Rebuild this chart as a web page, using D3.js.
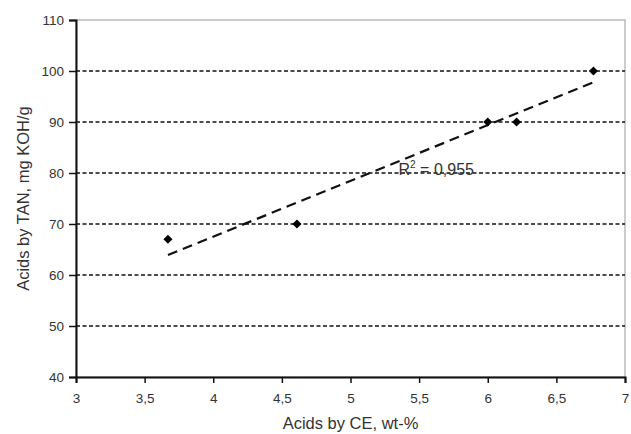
<!DOCTYPE html>
<html>
<head>
<meta charset="utf-8">
<script src="https://cdn.jsdelivr.net/npm/d3@7"></script>
<style>
  body { margin: 0; background: #fff; }
  text { font-family: "Liberation Sans", Arial, sans-serif; fill: #333; }
</style>
</head>
<body>
<svg id="chart" width="631" height="434"></svg>
<script>
// data
const acidsCE = [3.67, 4.61, 6.0, 6.21, 6.77];
const acidsTAN = [67, 70, 90, 90, 100];
const xTicks = [3, 3.5, 4, 4.5, 5, 5.5, 6, 6.5, 7];
const yTicks = [40, 50, 60, 70, 80, 90, 100, 110];
const r2Label = '0,955';

const margin = { top: 20, right: 6, bottom: 57, left: 76 };
const svg = d3.select('#chart');
const width = 631 - margin.left - margin.right;
const height = 434 - margin.top - margin.bottom;
const g = svg.append('g').attr('transform', `translate(${margin.left},${margin.top})`);

const x = d3.scaleLinear().domain([3, 7]).range([0, width]);
const y = d3.scaleLinear().domain([40, 110]).range([height, 0]);
const fmt = d => String(d).replace('.', ',');

// box border (light grey top / right)
g.append('rect')
  .attr('width', width).attr('height', height)
  .attr('fill', 'none').attr('stroke', '#aaa').attr('stroke-width', 1.2);

// dashed gridlines
g.selectAll('.grid')
  .data(yTicks.filter(d => d > 40 && d < 110))
  .enter().append('line')
  .attr('x1', 0).attr('x2', width)
  .attr('y1', d => y(d)).attr('y2', d => y(d))
  .attr('stroke', '#111').attr('stroke-width', 1.4)
  .attr('stroke-dasharray', '4,2.5');

// axes
const xAxis = g.append('g').attr('transform', `translate(0,${height})`)
  .call(d3.axisBottom(x).tickValues(xTicks).tickFormat(fmt).tickSize(6).tickPadding(10));
const yAxis = g.append('g')
  .call(d3.axisLeft(y).tickValues(yTicks).tickFormat(fmt).tickSize(7).tickPadding(5));
[xAxis, yAxis].forEach(a => {
  a.select('.domain').attr('stroke', '#111').attr('stroke-width', 2);
  a.selectAll('.tick line').attr('stroke', '#111').attr('stroke-width', 1.5);
  a.selectAll('.tick text').style('font-size', '13.5px').attr('fill', '#333');
});

// linear trend from the points
const mx = d3.mean(acidsCE), my = d3.mean(acidsTAN);
const sxy = d3.sum(acidsCE, (v, i) => (v - mx) * (acidsTAN[i] - my));
const sxx = d3.sum(acidsCE, v => (v - mx) * (v - mx));
const slope = sxy / sxx, icpt = my - slope * mx;
const xr = d3.extent(acidsCE);
g.append('line')
  .attr('x1', x(xr[0])).attr('y1', y(icpt + slope * xr[0]))
  .attr('x2', x(xr[1])).attr('y2', y(icpt + slope * xr[1]))
  .attr('stroke', '#111').attr('stroke-width', 2.2)
  .attr('stroke-dasharray', '10,6');

// diamond markers
g.selectAll('.pt')
  .data(acidsCE)
  .enter().append('path')
  .attr('d', d3.symbol().type(d3.symbolDiamond2).size(52))
  .attr('transform', (d, i) => `translate(${x(d)},${y(acidsTAN[i])})`)
  .attr('fill', '#000');

// R² label
const r2 = g.append('text')
  .attr('x', x(5.35)).attr('y', y(79.6))
  .style('font-size', '16px');
r2.append('tspan').text('R');
r2.append('tspan').attr('dy', -7).style('font-size', '10px').text('2');
r2.append('tspan').attr('dy', 7).text(' = ' + r2Label);

// axis titles
svg.append('text')
  .attr('x', margin.left + width / 2).attr('y', 429)
  .attr('text-anchor', 'middle').style('font-size', '16.5px')
  .text('Acids by CE, wt-%');
svg.append('text')
  .attr('transform', `translate(29,${margin.top + height / 2}) rotate(-90)`)
  .attr('text-anchor', 'middle').style('font-size', '16.5px')
  .text('Acids by TAN, mg KOH/g');
</script>
</body>
</html>
